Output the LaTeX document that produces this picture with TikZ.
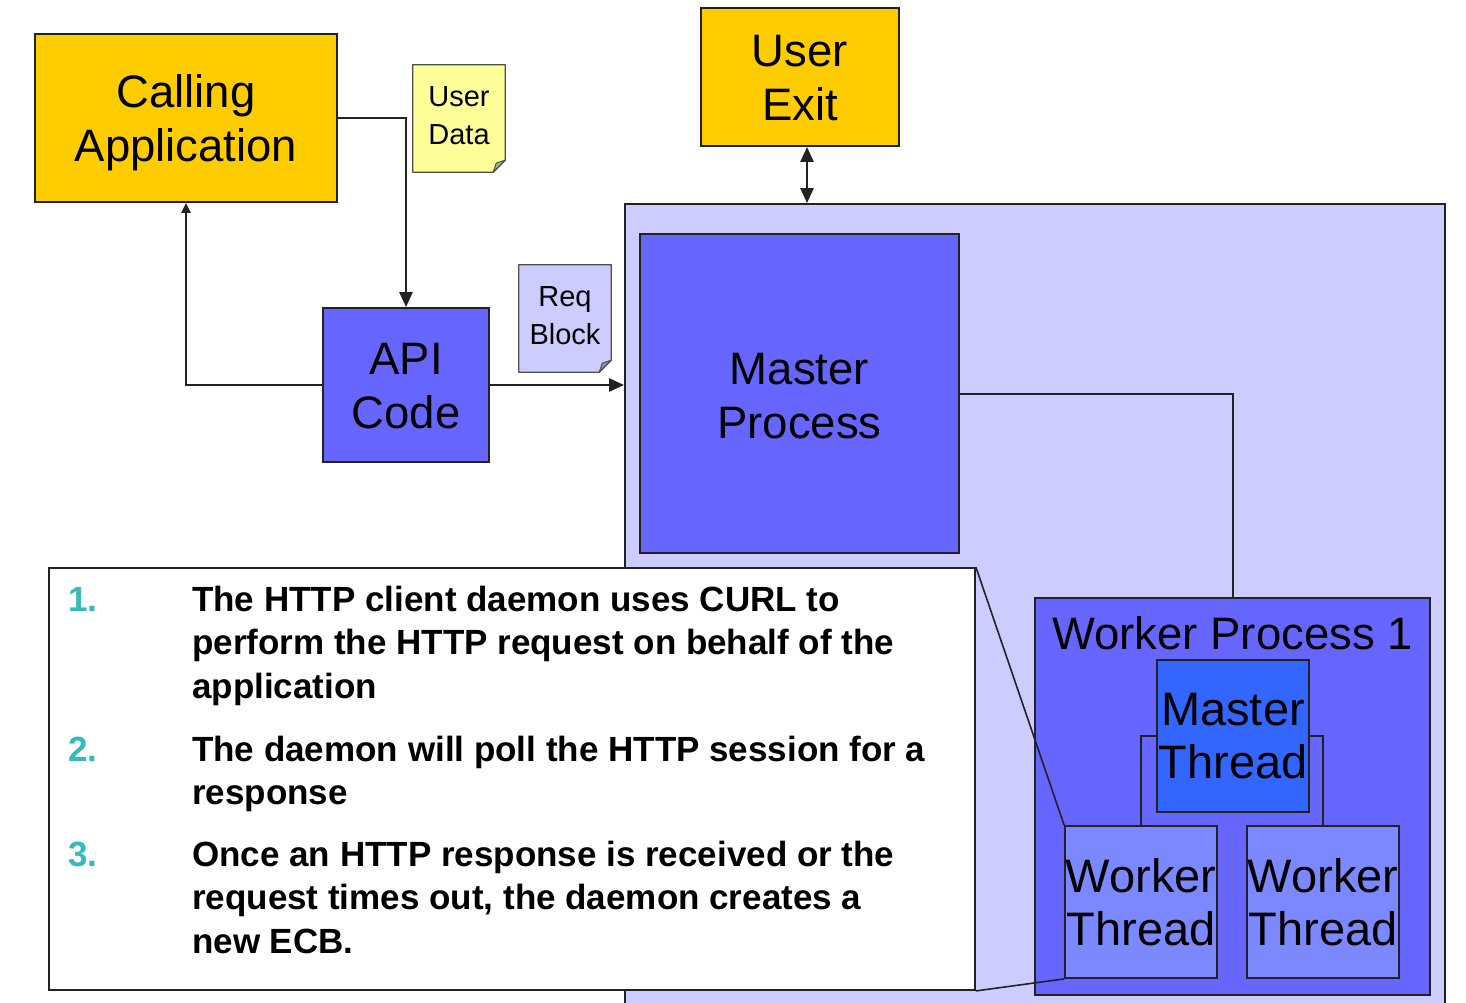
\documentclass[tikz,border=0pt]{standalone}
\usepackage{fontspec}
\setmainfont{Liberation Sans}
\usetikzlibrary{arrows.meta,calc}

\definecolor{gold}{HTML}{FFCC00}
\definecolor{notey}{HTML}{FFFF99}
\definecolor{lav}{HTML}{CCCCFF}
\definecolor{blu}{HTML}{6666FF}
\definecolor{mthread}{HTML}{3366FF}
\definecolor{wthread}{HTML}{7B88FF}
\definecolor{numcol}{HTML}{33BBBB}
\definecolor{edge}{HTML}{222222}

\begin{document}
\begin{tikzpicture}[x=1pt,y=-1pt,
  box/.style={draw=edge, line width=1.8pt, rectangle, inner sep=0pt, align=center,
              font=\fontsize{45.5}{54}\selectfont},
  thread/.style={box, minimum width=152pt, minimum height=152pt,
              font=\fontsize{47}{53}\selectfont},
  notebox/.style={inner sep=0pt, align=center, minimum width=92pt, minimum height=107pt,
              font=\fontsize{29}{38}\selectfont},
  conn/.style={draw=edge, line width=2.5pt},
  tip/.style={-{Triangle[length=15pt,width=13pt]}},
  item/.style={anchor=base west, inner sep=0pt, align=left,
              font=\fontsize{35}{43.5}\selectfont\bfseries},
  num/.style={anchor=base west, inner sep=0pt, text=numcol,
              font=\fontsize{35}{43.5}\selectfont\bfseries},
]
\clip (0,0) rectangle (1466,1002);
\fill[white] (0,0) rectangle (1466,1002);

% light region that holds the daemon processes
\node[box, fill=lav, minimum width=820pt, minimum height=816pt] (region) at (1035,612) {};

% top-level boxes
\node[box, fill=gold, minimum width=302pt, minimum height=168pt] (calling) at (186,118) {};
\node[box, fill=gold, minimum width=198pt, minimum height=138pt] (uexit) at (800,77) {};
\node[box, fill=blu, minimum width=319pt, minimum height=319pt] (master) at (799.5,393.5) {};
\node[box, fill=blu, minimum width=166pt, minimum height=154pt] (api) at (406,385) {};
\node[box, draw=none] at ([yshift=-5pt]calling.center) {Calling\\Application};
\node[box, draw=none] at ([yshift=-1pt]uexit.center) {User\\Exit};
\node[box, draw=none] at ([yshift=-3pt]master.center) {Master\\Process};
\node[box, draw=none] at ([yshift=-1pt]api.center) {API\\Code};

% folded-corner notes
\node[notebox] (udata) at (459,118.5) {};
\node[notebox] (reqb) at (565,318.5) {};
\foreach \n/\c in {udata/notey, reqb/lav}{
  \filldraw[fill=\c, draw=edge!80, line width=1.3pt, line join=round]
    (\n.north west) -- (\n.north east) -- ($(\n.south east)+(0,-12)$)
    -- ($(\n.south east)+(-12,0)$) -- (\n.south west) -- cycle;
  \filldraw[fill=\c!70!black, draw=edge!80, line width=1pt, line join=round]
    ($(\n.south east)+(0,-12)$) -- ($(\n.south east)+(-12,0)$)
    -- ($(\n.south east)+(-9,-9)$) -- cycle;
}
\node[notebox] at ([yshift=3pt]udata.center) {User\\Data};
\node[notebox] at ([yshift=3pt]reqb.center) {Req\\Block};

% worker process with its threads
\node[box, fill=blu, minimum width=395pt, minimum height=397pt] (wp) at (1232.5,796.5) {};
\node[inner sep=0pt, font=\fontsize{45.5}{53}\selectfont] (wplabel) at (1232.5,633) {Worker Process 1};
\node[thread, fill=mthread] (mt) at (1233,736) {Master\\Thread};
\draw[draw=edge, line width=1.8pt] (mt.west) -| (1141,826);
\draw[draw=edge, line width=1.8pt] (mt.east) -| (1323,826);
\node[thread, fill=wthread] (wt1) at (1141,902) {Worker\\Thread};
\node[thread, fill=wthread] (wt2) at (1323,902) {Worker\\Thread};

% connectors
\draw[conn, tip] (calling.east) -| (api.north);
\draw[conn, -{Triangle[length=10pt,width=9pt]}] (api.west) -| (calling.south);
\draw[conn, tip] (api.east) -- (region.west |- api.east);
\draw[conn, {Triangle[length=15pt,width=13pt]}-{Triangle[length=15pt,width=13pt]}]
  ([xshift=7pt]uexit.south) -- ([xshift=7pt]uexit.south |- region.north);
\draw[draw=edge, line width=2pt] (master.east) -| (wp.north);

% callout describing the daemon
\node[box, fill=white, minimum width=926pt, minimum height=422pt] (callout) at (512,779) {};
\draw[draw=edge, line width=1.6pt] (callout.north east) -- (wt1.north west);
\draw[draw=edge, line width=1.6pt] (callout.south east) -- (wt1.south west);

% list items: a node's base is its last line
\node[num] (n1) at (68,611) {1.};
\node[item] (t1) at (192,698) {The HTTP client daemon uses CURL to\\perform the HTTP request on behalf of the\\application};
\node[num] (n2) at (68,761) {2.};
\node[item] (t2) at (192,804.5) {The daemon will poll the HTTP session for a\\response};
\node[num] (n3) at (68,866) {3.};
\node[item] (t3) at (192,953) {Once an HTTP response is received or the\\request times out, the daemon creates a\\new ECB.};
\end{tikzpicture}
\end{document}
